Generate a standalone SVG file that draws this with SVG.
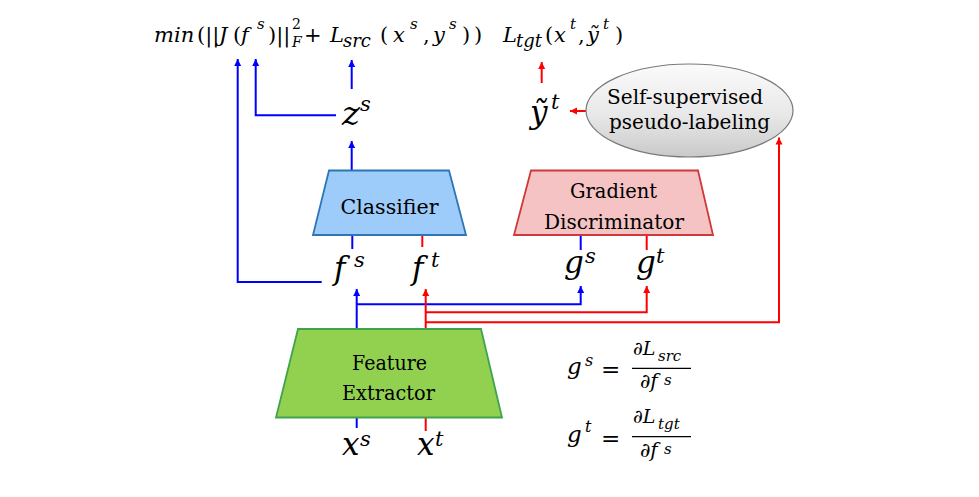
<svg xmlns="http://www.w3.org/2000/svg" width="979" height="497" viewBox="0 0 979 497">
<defs>
  <marker id="ab" viewBox="0 0 10 10" refX="10" refY="5" markerUnits="userSpaceOnUse" markerWidth="7" markerHeight="9" orient="auto">
    <path d="M0,0 L10,5 L0,10 z" fill="#0000FF"/>
  </marker>
  <marker id="ar" viewBox="0 0 10 10" refX="10" refY="5" markerUnits="userSpaceOnUse" markerWidth="7" markerHeight="9" orient="auto">
    <path d="M0,0 L10,5 L0,10 z" fill="#FF0000"/>
  </marker>
  <linearGradient id="eg" x1="0" y1="0" x2="0" y2="1">
    <stop offset="0" stop-color="#fbfbfb"/>
    <stop offset="0.55" stop-color="#e8e8e8"/>
    <stop offset="1" stop-color="#c9c9c9"/>
  </linearGradient>
</defs>
<style>
  .b { stroke:#0000FF; stroke-width:2; fill:none; }
  .r { stroke:#FF0000; stroke-width:2; fill:none; }
  .bar { stroke:#000; stroke-width:1.3; }
</style>
<rect width="979" height="497" fill="#fff"/>

<g id="connectors">
  <line class="b" x1="356.7" y1="417" x2="356.7" y2="428"/>
  <line class="b" x1="356.7" y1="329" x2="356.7" y2="289" marker-end="url(#ab)"/>
  <polyline class="b" points="356.7,304.3 580.7,304.3 580.7,286" marker-end="url(#ab)"/>
  <line class="b" x1="352.3" y1="235" x2="352.3" y2="249"/>
  <line class="b" x1="580.7" y1="235" x2="580.7" y2="250"/>
  <line class="b" x1="351.7" y1="170" x2="351.7" y2="141" marker-end="url(#ab)"/>
  <line class="b" x1="351.7" y1="89" x2="351.7" y2="60" marker-end="url(#ab)"/>
  <polyline class="b" points="336,115.3 255.7,115.3 255.7,59" marker-end="url(#ab)"/>
  <polyline class="b" points="321.7,282 237.7,282 237.7,59" marker-end="url(#ab)"/>
  <line class="r" x1="425.7" y1="417" x2="425.7" y2="431"/>
  <line class="r" x1="425.7" y1="329" x2="425.7" y2="289" marker-end="url(#ar)"/>
  <polyline class="r" points="425.7,312.3 646.7,312.3 646.7,286" marker-end="url(#ar)"/>
  <polyline class="r" points="425.7,322.3 779,322.3 779,137.5" marker-end="url(#ar)"/>
  <line class="r" x1="422.3" y1="235" x2="422.3" y2="247"/>
  <line class="r" x1="646.7" y1="235" x2="646.7" y2="250"/>
  <line class="r" x1="586" y1="111" x2="570" y2="111" marker-end="url(#ar)"/>
  <line class="r" x1="541.7" y1="83" x2="541.7" y2="62" marker-end="url(#ar)"/>
</g>

<g id="classifier" font-family="DejaVu Serif, serif" font-size="21" text-anchor="middle" fill="#000">
  <polygon points="329,170.5 449,170.5 466,235 313,235" fill="#9DCBFA" stroke="#2E75B6" stroke-width="1.8"/>
  <text x="389.5" y="214" textLength="98" lengthAdjust="spacingAndGlyphs">Classifier</text>
</g>

<g id="gradient-discriminator" font-family="DejaVu Serif, serif" font-size="21" text-anchor="middle" fill="#000">
  <polygon points="531,170.5 698,170.5 713,235 514,235" fill="#F5C3C3" stroke="#D0393B" stroke-width="1.8"/>
  <text x="613.5" y="198" textLength="87" lengthAdjust="spacingAndGlyphs">Gradient</text>
  <text x="614" y="229" textLength="140" lengthAdjust="spacingAndGlyphs">Discriminator</text>
</g>

<g id="feature-extractor" font-family="DejaVu Serif, serif" font-size="21" text-anchor="middle" fill="#000">
  <polygon points="298,329 481,329 502,417.5 276,417.5" fill="#92D050" stroke="#3FA34D" stroke-width="1.8"/>
  <text x="389.5" y="370" textLength="75" lengthAdjust="spacingAndGlyphs">Feature</text>
  <text x="388.5" y="400" textLength="93" lengthAdjust="spacingAndGlyphs">Extractor</text>
</g>

<g id="pseudo-labeling" font-family="DejaVu Serif, serif" font-size="21" text-anchor="middle" fill="#000">
  <ellipse cx="689.5" cy="110.5" rx="103.5" ry="46.5" fill="url(#eg)" stroke="#7a7a7a" stroke-width="1.2"/>
  <text x="685" y="104" textLength="156" lengthAdjust="spacingAndGlyphs">Self-supervised</text>
  <text x="689.5" y="129" textLength="161" lengthAdjust="spacingAndGlyphs">pseudo-labeling</text>
</g>

<g id="objective" font-family="DejaVu Serif, serif" font-size="21" fill="#000">
  <text><tspan font-style="italic" x="154" y="42">min</tspan><tspan x="197" y="42">(||</tspan><tspan font-style="italic" x="219" y="42">J</tspan><tspan x="233" y="42">(</tspan><tspan font-style="italic" x="241" y="42">f</tspan><tspan font-size="15" font-style="italic" x="257" y="29">s</tspan><tspan x="268" y="42">)||</tspan><tspan font-size="14" x="292" y="29">2</tspan><tspan font-size="14" font-style="italic" x="292" y="47">F</tspan><tspan x="304" y="42">+</tspan><tspan font-style="italic" x="330" y="42">L</tspan><tspan font-size="18" font-style="italic" x="343" y="47">src</tspan><tspan x="380" y="42">(</tspan><tspan font-style="italic" x="393" y="42">x</tspan><tspan font-size="15" font-style="italic" x="410" y="29">s</tspan><tspan x="423" y="42">,</tspan><tspan font-style="italic" x="433" y="42">y</tspan><tspan font-size="15" font-style="italic" x="449" y="29">s</tspan><tspan x="462" y="42">)</tspan><tspan x="474" y="42">)</tspan></text>
  <text><tspan font-style="italic" x="503" y="42">L</tspan><tspan font-size="18" font-style="italic" x="516" y="47">tgt</tspan><tspan x="545" y="42">(</tspan><tspan font-style="italic" x="554" y="42">x</tspan><tspan font-size="15" font-style="italic" x="570" y="29">t</tspan><tspan x="578" y="42">,</tspan><tspan font-style="italic" x="587" y="42">ỹ</tspan><tspan font-size="15" font-style="italic" x="603" y="29">t</tspan><tspan x="615" y="42">)</tspan></text>
</g>

<g id="labels" font-family="DejaVu Serif, serif" font-size="31" font-style="italic" fill="#000">
  <text x="342" y="125" font-size="34">z<tspan font-size="21" x="360" y="111">s</tspan></text>
  <text x="530" y="123">ỹ<tspan font-size="21" x="551" y="109">t</tspan></text>
  <text x="334" y="279">f<tspan font-size="21" x="354" y="267">s</tspan></text>
  <text x="412" y="279">f<tspan font-size="21" x="431" y="267">t</tspan></text>
  <text x="564" y="273">g<tspan font-size="21" x="585" y="263">s</tspan></text>
  <text x="636" y="273">g<tspan font-size="21" x="656" y="263">t</tspan></text>
  <text x="342" y="455">x<tspan font-size="21" x="360" y="446">s</tspan></text>
  <text x="417" y="455">x<tspan font-size="21" x="435" y="446">t</tspan></text>
</g>

<g id="equations" font-family="DejaVu Serif, serif" fill="#000">
  <text font-size="23"><tspan font-style="italic" x="567" y="373.5">g</tspan><tspan font-size="16" font-style="italic" x="585" y="366">s</tspan><tspan x="601" y="377">=</tspan></text>
  <text font-size="19" font-style="italic"><tspan x="633" y="355">∂L</tspan><tspan font-size="15" x="658" y="360.5">src</tspan></text>
  <line class="bar" x1="632" y1="368.3" x2="691" y2="368.3"/>
  <text font-size="20" font-style="italic"><tspan x="640" y="388">∂f</tspan><tspan font-size="15" x="664" y="385">s</tspan></text>

  <text font-size="23"><tspan font-style="italic" x="567" y="441.7">g</tspan><tspan font-size="16" font-style="italic" x="585" y="432">t</tspan><tspan x="601" y="445.5">=</tspan></text>
  <text font-size="19" font-style="italic"><tspan x="633" y="423.3">∂L</tspan><tspan font-size="15" x="658" y="428.5">tgt</tspan></text>
  <line class="bar" x1="632" y1="436.7" x2="691" y2="436.7"/>
  <text font-size="20" font-style="italic"><tspan x="640" y="456.7">∂f</tspan><tspan font-size="15" x="664" y="453.7">s</tspan></text>
</g>
</svg>
